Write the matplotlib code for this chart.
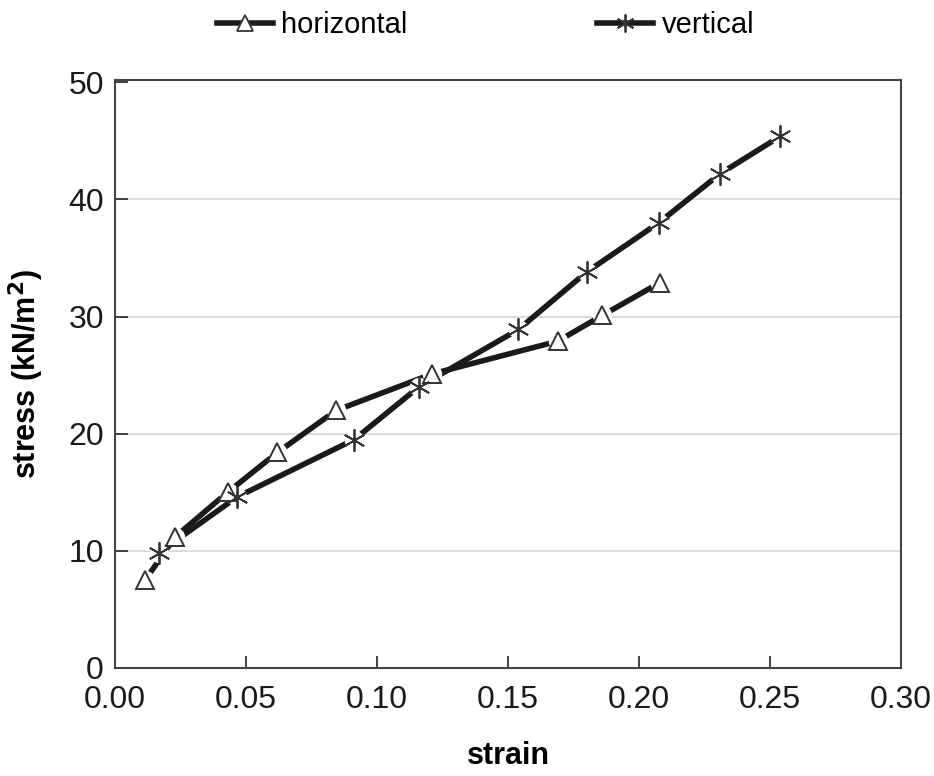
import matplotlib
matplotlib.use('Agg')
import matplotlib.pyplot as plt
from matplotlib import font_manager

# Data
h_strain = [0.0115, 0.023, 0.043, 0.062, 0.0845, 0.121, 0.169, 0.186, 0.208]
h_stress = [7.5, 11.2, 15.0, 18.4, 22.0, 25.1, 27.9, 30.1, 32.9]

v_strain = [0.0168, 0.0466, 0.0913, 0.116, 0.154, 0.180, 0.2075, 0.231, 0.254]
v_stress = [9.85, 14.6, 19.5, 24.0, 28.9, 33.8, 38.0, 42.2, 45.4]

x_ticks = [0.00, 0.05, 0.10, 0.15, 0.20, 0.25, 0.30]
y_ticks = [0, 10, 20, 30, 40, 50]

# Narrow font if available
names = {f.name for f in font_manager.fontManager.ttflist}
tick_font = 'Liberation Sans Narrow' if 'Liberation Sans Narrow' in names else 'Liberation Sans'
plt.rcParams['font.family'] = [tick_font, 'DejaVu Sans']

fig = plt.figure(figsize=(9.34, 7.76), dpi=100)
ax = fig.add_axes([0.1231, 0.1392, 0.8415, 0.7577])

ax.set_xlim(0, 0.30)
ax.set_ylim(0, 50.2)

for yv in y_ticks[1:-1]:
    ax.axhline(yv, color='#d9d9d9', lw=1.3, zorder=0)

lw = 4.0
star = (6, 2, 0)  # asterisk with a vertical arm
# white halos give the small gap between line and marker
ax.plot(h_strain, h_stress, color='#1a1a1a', lw=lw, solid_capstyle='round', zorder=2)
ax.plot(v_strain, v_stress, color='#1a1a1a', lw=lw, solid_capstyle='round', zorder=2)
ax.plot(h_strain, h_stress, ls='none', marker='o', ms=14, mfc='white', mec='none', zorder=3)
ax.plot(v_strain, v_stress, ls='none', marker='o', ms=14, mfc='white', mec='none', zorder=3)
ax.plot(h_strain, h_stress, ls='none', marker='^', ms=13, mfc='white', mec='#333333', mew=1.4, zorder=4)
ax.plot(v_strain, v_stress, ls='none', marker=star, ms=16, mec='#333333', mew=1.3, zorder=4)

# legend handles
h_leg, = ax.plot([], [], color='#1a1a1a', lw=lw, marker='^', ms=11, mfc='white', mec='#333333', mew=1.3)
v_leg, = ax.plot([], [], color='#1a1a1a', lw=lw, marker=star, ms=13, mec='#333333', mew=1.3)
leg = fig.legend([h_leg, v_leg], ['horizontal', 'vertical'], loc='upper center',
                 bbox_to_anchor=(0.52, 1.02), ncol=2, frameon=False, fontsize=21,
                 handlelength=1.9, handletextpad=0.3, columnspacing=6.5)

ax.set_xticks(x_ticks)
ax.set_xticklabels([f'{v:.2f}' for v in x_ticks])
ax.set_yticks(y_ticks)
ax.tick_params(direction='in', length=9, width=1.3, colors='#333333', labelsize=23,
               labelcolor='#1a1a1a')
ax.tick_params(axis='x', pad=12)
ax.tick_params(axis='y', pad=8)

for s in ax.spines.values():
    s.set_color('#444444')
    s.set_linewidth(1.5)

ax.set_xlabel('strain', fontsize=22, fontweight='bold', family=['Liberation Sans', 'DejaVu Sans'],
              labelpad=19)
ax.set_ylabel('stress (kN/m$^\\mathbf{2}$)', fontsize=22, fontweight='bold',
              family=['Liberation Sans', 'DejaVu Sans'], labelpad=16)

fig.savefig('out.png', dpi=100)
